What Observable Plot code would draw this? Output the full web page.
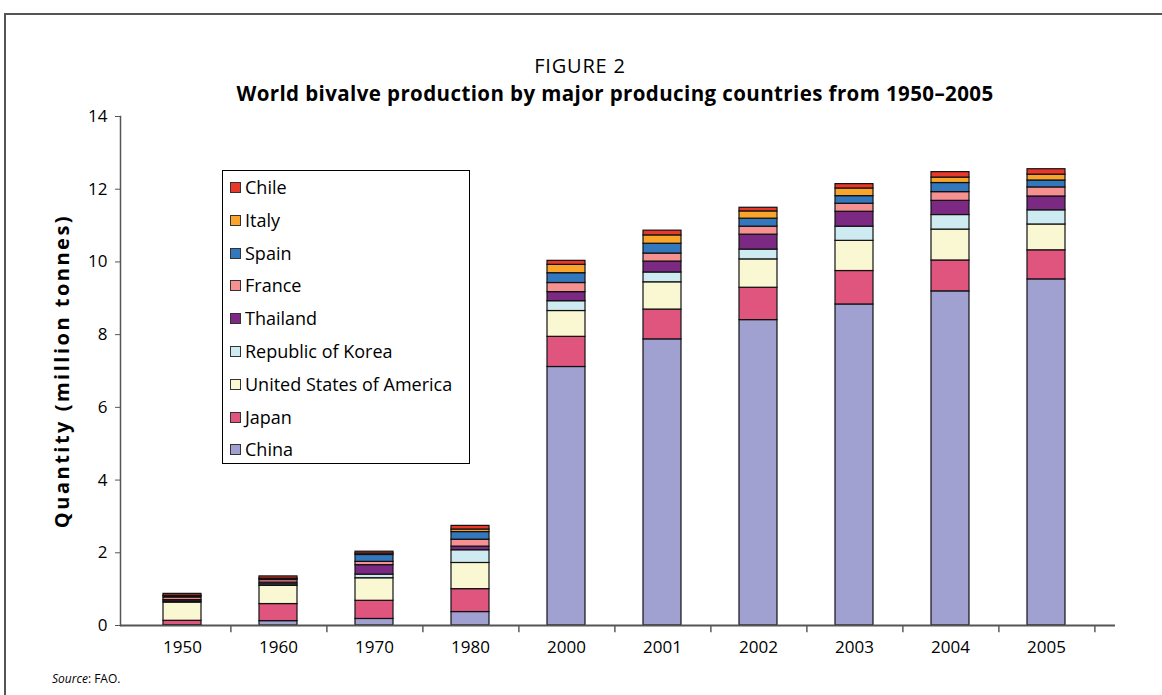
<!DOCTYPE html>
<html><head><meta charset="utf-8">
<script src="https://cdn.jsdelivr.net/npm/d3@7"></script>
<script src="https://cdn.jsdelivr.net/npm/@observablehq/plot@0.6"></script>
<style>
body{margin:0;background:#fff;font-family:"Open Sans",sans-serif;color:#000;}
#wrap{position:relative;width:1162px;height:695px;overflow:hidden;background:#fff;}
#chart{position:absolute;left:0;top:0;}
#border{position:absolute;left:4px;top:13px;width:1200px;height:800px;border-top:2px solid #555;border-left:2px solid #555;}
#fig{position:absolute;left:0;width:1160px;top:56px;text-align:center;font-size:20px;letter-spacing:0.8px;line-height:20px;}
#title{position:absolute;left:0;width:1230px;top:83px;text-align:center;font-size:20.5px;letter-spacing:0.4px;font-weight:bold;line-height:20px;}
#legend{position:absolute;left:222px;top:170px;width:246px;height:292px;border:1.5px solid #000;background:#fff;}
.row{height:32.8px;line-height:32.8px;font-size:18px;white-space:nowrap;position:relative;padding-left:22px;}
.sw{position:absolute;left:7px;top:11px;width:9px;height:9px;border:1.3px solid #333;}
#source{position:absolute;left:52px;top:670px;font-size:12px;}
</style></head><body>
<div id="wrap">
 <div id="border"></div>
 <div id="chart"></div>
 <div id="fig">FIGURE 2</div>
 <div id="title">World bivalve production by major producing countries from 1950–2005</div>
 <div id="legend"></div>
 <div id="source"><i>Source</i>: FAO.</div>
</div>
<script>
const years = ["1950","1960","1970","1980","2000","2001","2002","2003","2004","2005"];
const countries = ["China","Japan","United States of America","Republic of Korea","Thailand","France","Spain","Italy","Chile"];
const colors = ["#A0A1D1","#E0557E","#FAF7D3","#CFEBF2","#7B2982","#F59190","#3377BD","#F9A52B","#E8382A"];
const china    = [0.01,0.12,0.18,0.37,7.11,7.87,8.40,8.83,9.19,9.52];
const japan    = [0.12,0.47,0.50,0.63,0.83,0.82,0.89,0.92,0.85,0.80];
const usa      = [0.50,0.50,0.62,0.72,0.71,0.75,0.78,0.83,0.85,0.71];
const korea    = [0.03,0.04,0.10,0.35,0.27,0.27,0.27,0.39,0.40,0.39];
const thailand = [0.04,0.05,0.26,0.10,0.25,0.30,0.41,0.41,0.39,0.38];
const france   = [0.07,0.07,0.09,0.19,0.25,0.22,0.22,0.22,0.24,0.25];
const spain    = [0.03,0.03,0.19,0.21,0.27,0.27,0.22,0.21,0.25,0.19];
const italy    = [0.02,0.01,0.04,0.07,0.23,0.23,0.20,0.21,0.15,0.16];
const chile    = [0.05,0.06,0.05,0.10,0.11,0.13,0.10,0.12,0.15,0.15];
const yTicks = [0,2,4,6,8,10,12,14];
const yLabel = "Quantity (million tonnes)";

const series = [china,japan,usa,korea,thailand,france,spain,italy,chile];
const data = [];
countries.forEach((c,i)=>years.forEach((y,j)=>data.push({year:y,country:c,value:series[i][j]})));

const W=1162,H=695,mL=120,mR=47,mT=116,mB=70;
const pI=0.6,pO=0.44,n=years.length;
const step=(W-mL-mR)/(n-pI+2*pO);

const plot = Plot.plot({
  width:W,height:H,marginLeft:mL,marginRight:mR,marginTop:mT,marginBottom:mB,
  style:{fontFamily:"'Open Sans', sans-serif",fontSize:"17px",color:"#000",background:"transparent",overflow:"visible"},
  x:{type:"band",domain:years,paddingInner:pI,paddingOuter:pO,align:0.46,label:null},
  y:{domain:[0,14],label:null},
  color:{domain:countries,range:colors},
  marks:[
    Plot.barY(data,Plot.stackY({x:"year",y:"value",z:"country",fill:"country",stroke:"#111",strokeWidth:1.2})),
    Plot.ruleX(years,{x:d=>d,y1:0,y2:-0.2,dx:step/2,stroke:"#444",strokeWidth:1.3}),
    Plot.frame({anchor:"left",stroke:"#555",strokeWidth:1.5}),
    Plot.ruleY([0],{stroke:"#555",strokeWidth:2.2}),
    Plot.axisY({ticks:yTicks,tickSize:5,tickPadding:8,tickFormat:d=>String(d),fontSize:17,label:null,stroke:"#555"}),
    Plot.axisX({tickSize:0,tickPadding:15,fontSize:17,label:null}),
    Plot.text([yLabel],{text:d=>d,frameAnchor:"left",textAnchor:"middle",rotate:-90,dx:-58,fontWeight:"bold",fontSize:20})
  ]
});
document.getElementById("chart").appendChild(plot);
plot.querySelectorAll("text").forEach(t=>{ if(t.textContent===yLabel) t.style.letterSpacing="2.5px"; });

const lg = document.getElementById("legend");
countries.slice().reverse().forEach(c=>{
  const i = countries.indexOf(c);
  const r = document.createElement("div"); r.className="row";
  const s = document.createElement("span"); s.className="sw"; s.style.background=colors[i];
  r.appendChild(s); r.appendChild(document.createTextNode(c));
  lg.appendChild(r);
});
</script>
</body></html>
